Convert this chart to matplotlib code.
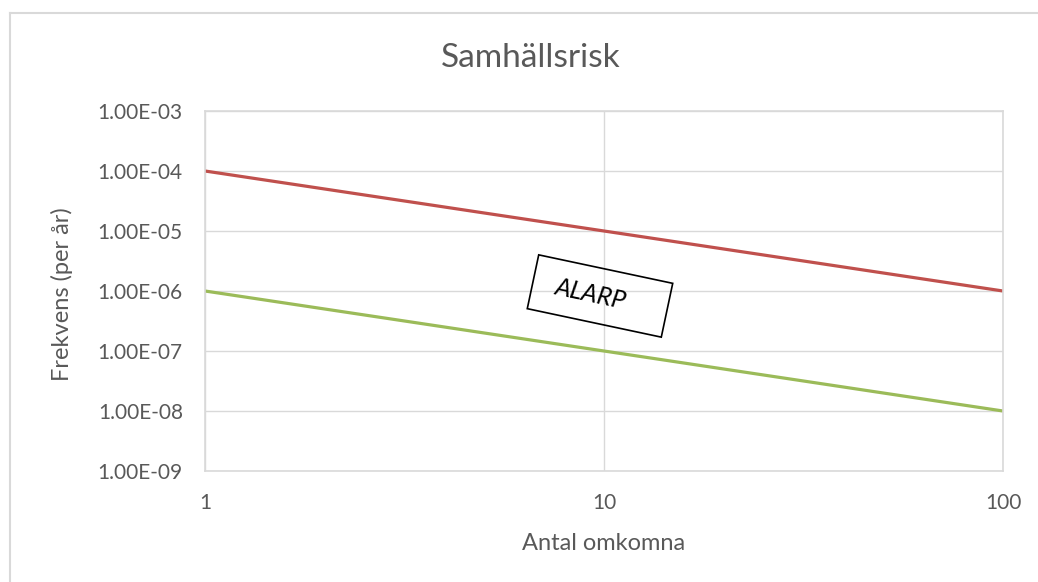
import matplotlib.pyplot as plt
from matplotlib.ticker import FuncFormatter, FixedLocator, NullLocator
from matplotlib.patches import Rectangle
from matplotlib.lines import Line2D
from matplotlib.transforms import Affine2D

plt.rcParams['font.family'] = ['Lato', 'DejaVu Sans']

# data
deaths = [1, 100]
upper_limit = [1e-4, 1e-6]   # red
lower_limit = [1e-6, 1e-8]   # green
x_ticks = [1, 10, 100]
y_ticks = [1e-9, 1e-8, 1e-7, 1e-6, 1e-5, 1e-4, 1e-3]

grey = '#595959'
grid = '#d9d9d9'

fig = plt.figure(figsize=(10.38, 5.82), dpi=100)
ax = fig.add_axes([205 / 1038, 1 - 471 / 582, 798 / 1038, 360 / 582])

ax.plot(deaths, upper_limit, color='#c0504d', lw=2.3, solid_capstyle='butt')
ax.plot(deaths, lower_limit, color='#9bbb59', lw=2.3, solid_capstyle='butt')

ax.set_xscale('log')
ax.set_yscale('log')
ax.set_xlim(1, 100)
ax.set_ylim(1e-9, 1e-3)

ax.xaxis.set_major_locator(FixedLocator(x_ticks))
ax.xaxis.set_minor_locator(NullLocator())
ax.xaxis.set_major_formatter(FuncFormatter(lambda v, p: f'{v:g}'))
ax.yaxis.set_major_locator(FixedLocator(y_ticks))
ax.yaxis.set_minor_locator(NullLocator())
ax.yaxis.set_major_formatter(FuncFormatter(lambda v, p: f'{v:.2E}'))

ax.tick_params(length=0, labelsize=15, labelcolor=grey)
ax.tick_params(axis='y', pad=16)
ax.tick_params(axis='x', pad=16)
ax.grid(True, color=grid, lw=1)
ax.set_axisbelow(True)
for s in ax.spines.values():
    s.set_color(grid)
    s.set_linewidth(1.2)

# titles and labels
fig.text(531 / 1038, 1 - 58 / 582, 'Samhällsrisk', ha='center', va='center',
         fontsize=24, color=grey)
fig.text(604 / 1038, 1 - 543 / 582, 'Antal omkomna', ha='center', va='center',
         fontsize=17, color=grey)
fig.text(62 / 1038, 1 - 294 / 582, 'Frekvens (per år)', ha='center', va='center',
         rotation=90, fontsize=17, color=grey)

# ALARP text box (rotated)
box_tr = Affine2D().rotate_deg(-12).translate(6.00, 5.82 - 2.96) + fig.dpi_scale_trans
fig.patches.append(Rectangle((-0.685, -0.275), 1.37, 0.55, transform=box_tr,
                             fill=False, edgecolor='black', lw=1.2))
fig.text(591 / 1038, 1 - 294 / 582, 'ALARP', ha='center', va='center',
         rotation=-12, rotation_mode='anchor', fontsize=18, style='italic', color='black')

# outer chart frame
fig.add_artist(Line2D([10 / 1038, 1], [1 - 13 / 582] * 2, color=grid, lw=1.5,
                      transform=fig.transFigure))
fig.add_artist(Line2D([10 / 1038] * 2, [0, 1 - 13 / 582], color=grid, lw=1.5,
                      transform=fig.transFigure))

fig.savefig('out.png', dpi=100)
